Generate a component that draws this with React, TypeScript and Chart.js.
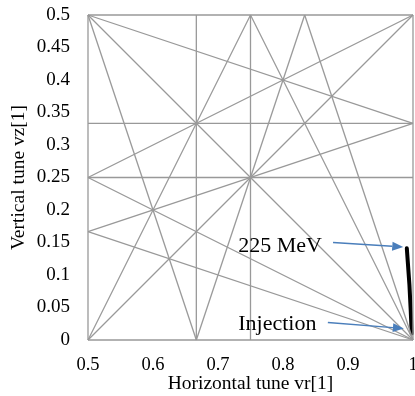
import React, { useEffect, useRef } from "react";
import { Chart, registerables } from "chart.js";

Chart.register(...registerables);

// Axis ticks
const xTickValues = [0.5, 0.6, 0.7, 0.8, 0.9, 1];
const xTickLabels = ["0.5", "0.6", "0.7", "0.8", "0.9", "1"];
const yTickValues = [0, 0.05, 0.1, 0.15, 0.2, 0.25, 0.3, 0.35, 0.4, 0.45, 0.5];
const yTickLabels = ["0", "0.05", "0.1", "0.15", "0.2", "0.25", "0.3", "0.35", "0.4", "0.45", "0.5"];

// Resonance lines: [νx start, νz start, νx end, νz end]
const resonanceLines: number[][] = [
  [0.5, 0, 1, 0],
  [0.5, 0.5, 1, 0.5],
  [0.5, 0, 0.5, 0.5],
  [1, 0, 1, 0.5],
  [0.5, 1 / 3, 1, 1 / 3],
  [0.5, 0.25, 1, 0.25],
  [2 / 3, 0, 2 / 3, 0.5],
  [0.75, 0, 0.75, 0.5],
  [0.5, 0.5, 1, 0],
  [0.5, 0, 1, 0.5],
  [0.5, 0.25, 1, 0.5],
  [0.5, 0.25, 1, 0],
  [0.5, 0, 0.75, 0.5],
  [0.75, 0.5, 1, 0],
  [0.5, 0.5, 1, 1 / 3],
  [0.5, 1 / 6, 1, 1 / 3],
  [0.5, 1 / 6, 1, 0],
  [0.5, 0.5, 2 / 3, 0],
  [2 / 3, 0, 5 / 6, 0.5],
  [5 / 6, 0.5, 1, 0],
];

// Tune path (injection -> 225 MeV)
const tuneX = [0.998, 0.9965, 0.9945, 0.992, 0.9905];
const tuneY = [0.01, 0.045, 0.085, 0.12, 0.141];

// Annotations
const annotationLabels = ["225 MeV", "Injection"];
const annotationTextX = [0.7312, 0.7312];
const annotationTextY = [0.1358, 0.0154];
const arrowStartX = [0.877, 0.869];
const arrowStartY = [0.15, 0.027];
const arrowEndX = [0.985, 0.986];
const arrowEndY = [0.143, 0.0177];

const SERIF = '"Liberation Serif", "Times New Roman", serif';

const annotationPlugin = {
  id: "tuneAnnotations",
  afterDatasetsDraw(chart: any) {
    const { ctx } = chart;
    const xs = chart.scales.x;
    const ys = chart.scales.y;
    ctx.save();
    ctx.font = `22px ${SERIF}`;
    ctx.fillStyle = "#000000";
    ctx.textAlign = "left";
    ctx.textBaseline = "alphabetic";
    annotationLabels.forEach((label, i) => {
      ctx.fillText(label, xs.getPixelForValue(annotationTextX[i]), ys.getPixelForValue(annotationTextY[i]));
    });
    ctx.strokeStyle = "#4a7ebb";
    ctx.fillStyle = "#4a7ebb";
    ctx.lineWidth = 1.5;
    annotationLabels.forEach((_, i) => {
      const x1 = xs.getPixelForValue(arrowStartX[i]);
      const y1 = ys.getPixelForValue(arrowStartY[i]);
      const x2 = xs.getPixelForValue(arrowEndX[i]);
      const y2 = ys.getPixelForValue(arrowEndY[i]);
      const ang = Math.atan2(y2 - y1, x2 - x1);
      const hl = 11;
      const hw = 4.5;
      const bx = x2 - hl * Math.cos(ang);
      const by = y2 - hl * Math.sin(ang);
      ctx.beginPath();
      ctx.moveTo(x1, y1);
      ctx.lineTo(bx, by);
      ctx.stroke();
      ctx.beginPath();
      ctx.moveTo(x2, y2);
      ctx.lineTo(bx + hw * Math.sin(ang), by - hw * Math.cos(ang));
      ctx.lineTo(bx - hw * Math.sin(ang), by + hw * Math.cos(ang));
      ctx.closePath();
      ctx.fill();
    });
    ctx.restore();
  },
};

export default function App() {
  const canvasRef = useRef<HTMLCanvasElement | null>(null);

  useEffect(() => {
    document.body.style.margin = "0";
    document.body.style.overflow = "hidden";
    const canvas = canvasRef.current;
    if (!canvas) return;

    const lineDatasets = resonanceLines.map((seg) => ({
      data: [
        { x: seg[0], y: seg[1] },
        { x: seg[2], y: seg[3] },
      ],
      showLine: true,
      borderColor: "#999999",
      borderWidth: 1.3,
      pointRadius: 0,
      clip: false as any,
    }));

    const tuneDataset = {
      data: tuneX.map((x, i) => ({ x, y: tuneY[i] })),
      showLine: true,
      borderColor: "#000000",
      borderWidth: 4,
      borderCapStyle: "round" as const,
      pointRadius: 0,
      clip: false as any,
    };

    const chart = new Chart(canvas, {
      type: "scatter",
      data: { datasets: [...lineDatasets, tuneDataset] as any },
      options: {
        animation: false,
        responsive: false,
        devicePixelRatio: 1,
        layout: { padding: { top: 15, right: 2, left: 0, bottom: 0 }, autoPadding: false } as any,
        plugins: { legend: { display: false }, tooltip: { enabled: false } },
        scales: {
          x: {
            type: "linear",
            min: 0.5,
            max: 1,
            grid: { display: false, drawTicks: false },
            border: { display: false },
            afterBuildTicks: (scale: any) => {
              scale.ticks = xTickValues.map((v) => ({ value: v }));
            },
            afterFit: (scale: any) => {
              scale.height = 56;
              scale.paddingLeft = 0;
              scale.paddingRight = 0;
            },
            ticks: {
              padding: 14,
              color: "#000000",
              font: { family: SERIF, size: 18.5 },
              maxRotation: 0,
              autoSkip: false,
              callback: (v: any) => {
                const i = xTickValues.findIndex((t) => Math.abs(t - Number(v)) < 1e-9);
                return i >= 0 ? xTickLabels[i] : "";
              },
            },
            title: {
              display: true,
              text: "Horizontal tune vr[1]",
              color: "#000000",
              font: { family: SERIF, size: 19.5 },
              padding: { top: 0, bottom: 0 },
            },
          },
          y: {
            type: "linear",
            min: 0,
            max: 0.5,
            grid: { display: false, drawTicks: false },
            border: { display: false },
            afterBuildTicks: (scale: any) => {
              scale.ticks = yTickValues.map((v) => ({ value: v }));
            },
            afterFit: (scale: any) => {
              scale.width = 88;
              scale.paddingTop = 0;
              scale.paddingBottom = 0;
            },
            ticks: {
              padding: 18,
              color: "#000000",
              font: { family: SERIF, size: 19 },
              autoSkip: false,
              callback: (v: any) => {
                const i = yTickValues.findIndex((t) => Math.abs(t - Number(v)) < 1e-9);
                return i >= 0 ? yTickLabels[i] : "";
              },
            },
            title: {
              display: true,
              text: "Vertical tune vz[1]",
              color: "#000000",
              font: { family: SERIF, size: 19.5 },
              padding: { top: 7, bottom: 0 },
            },
          },
        },
      },
      plugins: [annotationPlugin],
    });

    return () => chart.destroy();
  }, []);

  return (
    <div style={{ width: 415, height: 396 }}>
      <canvas ref={canvasRef} width={415} height={396} style={{ width: 415, height: 396, display: "block" }} />
    </div>
  );
}
